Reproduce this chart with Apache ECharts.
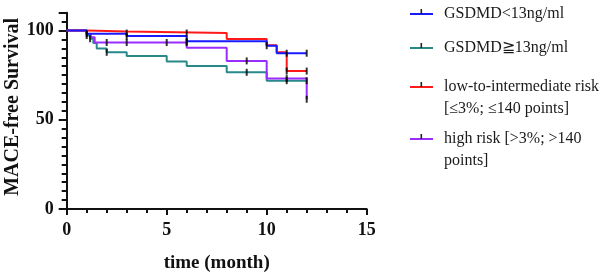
<!DOCTYPE html>
<html>
<head>
<meta charset="utf-8">
<script src="https://cdn.jsdelivr.net/npm/echarts@6/dist/echarts.min.js"></script>
<style>
  html, body { margin: 0; padding: 0; background: #fff; }
  #chart { width: 600px; height: 278px; }
</style>
</head>
<body>
<div id="chart"></div>
<script>
// KM curves: [month, survival %], drawn with step 'end'
const blueCurve = [[0, 100], [1, 98.2], [3, 96.9], [6, 94], [10, 91.5], [10.5, 87.3], [12, 87.3]];
const tealCurve = [[0, 100], [1, 97.2], [1.17, 95.4], [1.33, 93], [1.5, 90], [2, 87.8], [3, 85.8], [5, 82.7], [6, 80.1], [8, 76.6], [10, 71.9], [12, 71.9]];
const redCurve = [[0, 100], [1, 99.4], [3, 98.6], [8, 95.2], [10, 91.8], [10.5, 87.9], [11, 77.3], [12, 77.3]];
const purpleCurve = [[0, 100], [1, 98], [1.2, 96.2], [1.4, 93.3], [6, 90.4], [8, 83], [10, 73.1], [12, 73.1], [12, 61.5]];

// censor marks
const blueCensor = [[1, 98.2], [3, 96.9], [6, 94], [10, 91.5], [11, 87.3], [12, 87.3]];
const tealCensor = [[1, 97.2], [1.17, 95.4], [2, 87.8], [9, 76.6], [11, 71.9], [12, 71.9]];
const redCensor = [[3, 98.6], [6, 98.6], [11, 77.3], [12, 77.3]];
const purpleCensor = [[2, 93.3], [3, 93.3], [5, 93.3], [6, 93.3], [9, 83], [11, 73.1], [12, 61.5]];

const groupNames = ['GSDMD<13ng/ml', 'GSDMD≧13ng/ml', 'low-to-intermediate risk', 'high risk'];
const legendLines = [
    ['GSDMD<13ng/ml'],
    ['GSDMD≧13ng/ml'],
    ['low-to-intermediate risk', '[≤3%; ≤140 points]'],
    ['high risk [>3%; >140', 'points]']
];
const groupColors = ['#1a1aff', '#27898a', '#ff1a1a', '#9b2cff'];

const xTicks = [0, 5, 10, 15];
const yTicks = [0, 50, 100];

const FONT = '"Liberation Serif", "Times New Roman", serif';

let chartDOM = document.getElementById('chart');
let chart = echarts.init(chartDOM, null, { renderer: 'canvas' });

const curves = [tealCurve, purpleCurve, redCurve, blueCurve];
const censors = [tealCensor, purpleCensor, redCensor, blueCensor];
const order = [1, 3, 2, 0];

let series = [];
order.forEach((gi, k) => {
    series.push({
        name: groupNames[gi],
        type: 'line',
        step: 'end',
        data: curves[k],
        showSymbol: false,
        lineStyle: { color: groupColors[gi], width: 2 },
        z: 2 + k,
        animation: false
    });
});
order.forEach((gi, k) => {
    series.push({
        name: groupNames[gi] + ' censor',
        type: 'scatter',
        data: censors[k],
        symbol: 'rect',
        symbolSize: [2, 7],
        itemStyle: { color: '#000' },
        z: 10,
        animation: false
    });
});

// legend drawn by hand so the icon sits on the first text line
let graphics = [];
let rowY = [14, 48, 87, 139];
legendLines.forEach((lines, i) => {
    let y = rowY[i];
    graphics.push({ type: 'rect', shape: { x: 410, y: y - 1, width: 23, height: 2 }, style: { fill: groupColors[i] } });
    graphics.push({ type: 'rect', shape: { x: 420.5, y: y - 5, width: 1.6, height: 5 }, style: { fill: '#222' } });
    lines.forEach((t, j) => {
        graphics.push({
            type: 'text',
            x: 444, y: y + j * 22,
            style: { text: t, font: '16px ' + FONT, fill: '#1a1a1a', verticalAlign: 'middle', align: 'left' }
        });
    });
});

const option = {
    backgroundColor: '#fff',
    animation: false,
    grid: { left: 66.7, right: 233.3, top: 12.7, bottom: 66.3 },
    xAxis: {
        type: 'value',
        min: 0, max: 15, interval: 5,
        name: 'time (month)',
        nameLocation: 'middle',
        nameGap: 45,
        nameTextStyle: { fontFamily: FONT, fontWeight: 'bold', fontSize: 19, color: '#111' },
        axisLine: { onZero: false, lineStyle: { color: '#111', width: 2 } },
        axisTick: { length: 6, lineStyle: { color: '#111', width: 2 } },
        minorTick: { show: true, splitNumber: 5, length: 4, lineStyle: { color: '#111', width: 2 } },
        splitLine: { show: false },
        axisLabel: {
            margin: 12,
            fontFamily: FONT, fontWeight: 'bold', fontSize: 18, color: '#111',
            formatter: v => xTicks.includes(v) ? String(v) : ''
        }
    },
    yAxis: {
        type: 'value',
        min: 0, max: 110, interval: 50,
        name: 'MACE-free Survival',
        nameLocation: 'middle',
        nameGap: 41,
        nameTextStyle: { fontFamily: FONT, fontWeight: 'bold', fontSize: 20, color: '#111', padding: [0, 0, 0, 8] },
        axisLine: { show: true, onZero: false, lineStyle: { color: '#111', width: 2 } },
        axisTick: { length: 8, lineStyle: { color: '#111', width: 2 } },
        minorTick: { show: true, splitNumber: 10, length: 5, lineStyle: { color: '#111', width: 2 } },
        splitLine: { show: false },
        axisLabel: {
            margin: 13,
            fontFamily: FONT, fontWeight: 'bold', fontSize: 18, color: '#111',
            formatter: v => yTicks.includes(v) ? String(v) : ''
        }
    },
    series: series,
    graphic: graphics
};

chart.setOption(option);
</script>
</body>
</html>
